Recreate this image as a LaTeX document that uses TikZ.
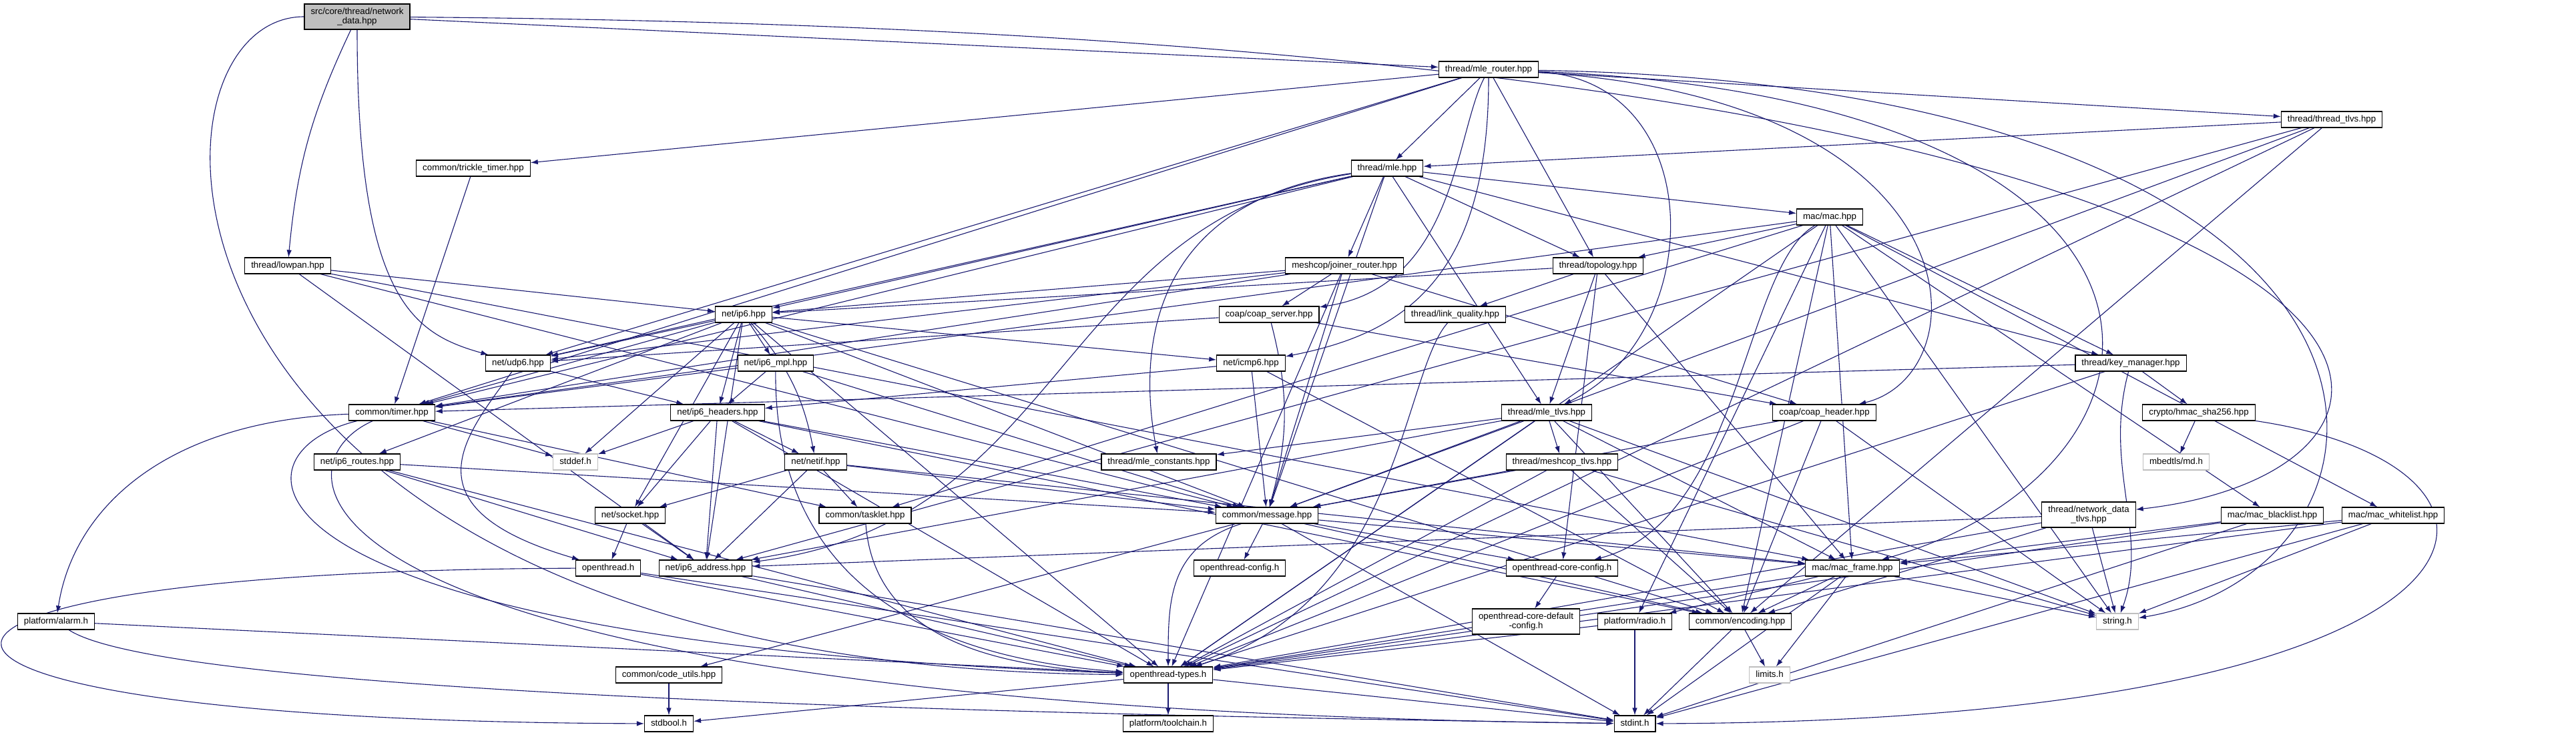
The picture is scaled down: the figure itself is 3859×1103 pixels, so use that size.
\documentclass[tikz,border=0pt]{standalone}
\usepackage{fontspec}
\setmainfont{Liberation Sans}
\usepackage{tikz}
\usetikzlibrary{arrows.meta, backgrounds}
\usepackage{xcolor}

\definecolor{edgeblue}{HTML}{191970}
\definecolor{boxgray}{HTML}{BFBFBF}

\begin{document}
\begin{tikzpicture}[x=1pt, y=-1pt, font=\fontsize{13.3}{14}\selectfont]

% Define styles
\tikzstyle{box} = [rectangle, draw, fill=white, line width=1.1pt, inner xsep=9.5pt, inner ysep=0pt, minimum height=24pt]
\tikzstyle{file} = [box, text height=9.6pt, text depth=3pt]
\tikzstyle{sysfile} = [file, draw=boxgray]
\tikzstyle{twofile} = [box, align=center, minimum height=38pt]
\tikzstyle{rootfile} = [twofile, fill=boxgray]
\tikzstyle{incl} = [draw=edgeblue, line width=1.1pt, ->, >={Latex[length=11pt,width=7.5pt]}]

\useasboundingbox (0,0) rectangle (3859,1103);

% Included file
\node [rootfile] (root) at (535,25) {src/core/thread/network\\\_data.hpp};

% Thread layer
\node [file] (mlerouter) at (2230,104) {thread/mle\_router.hpp};
\node [file] (threadtlvs) at (3493,179) {thread/thread\_tlvs.hpp};
\node [file] (trickle) at (709,252) {common/trickle\_timer.hpp};
\node [file] (mle) at (2078,252) {thread/mle.hpp};
\node [file] (mac) at (2741,325) {mac/mac.hpp};
\node [file] (lowpan) at (431,398) {thread/lowpan.hpp};
\node [file] (joiner) at (2014,398) {meshcop/joiner\_router.hpp};
\node [file] (topology) at (2394,398) {thread/topology.hpp};
\node [file] (ip6) at (1114,471) {net/ip6.hpp};
\node [file] (coapserver) at (1901,471) {coap/coap\_server.hpp};
\node [file] (linkq) at (2180,471) {thread/link\_quality.hpp};
\node [file] (udp6) at (776,544) {net/udp6.hpp};
\node [file] (ip6mpl) at (1162,544) {net/ip6\_mpl.hpp};
\node [file] (icmp6) at (1874,544) {net/icmp6.hpp};
\node [file] (keymgr) at (3192,544) {thread/key\_manager.hpp};

% Net and common layer
\node [file] (timer) at (587,618) {common/timer.hpp};
\node [file] (ip6hdr) at (1075,618) {net/ip6\_headers.hpp};
\node [file] (mletlvs) at (2317,618) {thread/mle\_tlvs.hpp};
\node [file] (coaphdr) at (2733,618) {coap/coap\_header.hpp};
\node [file] (hmac) at (3294,618) {crypto/hmac\_sha256.hpp};
\node [file] (ip6routes) at (535,692) {net/ip6\_routes.hpp};
\node [sysfile] (stddef) at (862,692) {stddef.h};
\node [file] (netif) at (1222,692) {net/netif.hpp};
\node [file] (mleconst) at (1736,692) {thread/mle\_constants.hpp};
\node [file] (meshtlvs) at (2340,692) {thread/meshcop\_tlvs.hpp};
\node [sysfile] (mbedmd) at (3260,692) {mbedtls/md.h};
\node [file] (socket) at (944,772) {net/socket.hpp};
\node [file] (tasklet) at (1296,772) {common/tasklet.hpp};
\node [file] (message) at (1898,772) {common/message.hpp};
\node [twofile] (ndtlvs) at (3129,771) {thread/network\_data\\\_tlvs.hpp};
\node [file] (blacklist) at (3404,772) {mac/mac\_blacklist.hpp};
\node [file] (whitelist) at (3585,772) {mac/mac\_whitelist.hpp};

% Base headers
\node [file] (openthread) at (911,851) {openthread.h};
\node [file] (ip6addr) at (1057,851) {net/ip6\_address.hpp};
\node [file] (otconfig) at (1857,851) {openthread-config.h};
\node [file] (coreconfig) at (2340,851) {openthread-core-config.h};
\node [file] (macframe) at (2775,851) {mac/mac\_frame.hpp};
\node [file] (alarm) at (84,931) {platform/alarm.h};
\node [twofile] (defconfig) at (2286,931) {openthread-core-default\\-config.h};
\node [file] (radio) at (2449,931) {platform/radio.h};
\node [file] (encoding) at (2607,931) {common/encoding.hpp};
\node [sysfile] (string) at (3172,931) {string.h};
\node [file] (codeutils) at (1002,1011) {common/code\_utils.hpp};
\node [file] (ottypes) at (1750,1011) {openthread-types.h};
\node [sysfile] (limits) at (2651,1011) {limits.h};
\node [file] (stdbool) at (1002,1084) {stdbool.h};
\node [file] (toolchain) at (1750,1084) {platform/toolchain.h};
\node [file] (stdint) at (2449,1084) {stdint.h};

\begin{scope}[on background layer]
% Arrows from the included file
\draw [incl] (root) -- (mlerouter);
\draw [incl] (root) to [bend right=10] (lowpan);
\draw [incl] (root) .. controls (535,450) and (620,500) .. (udp6);
\draw [incl] (root) .. controls (180,25) and (180,1000) .. (ottypes);
\draw [incl] (root) .. controls (3770,50) and (3770,700) .. (ndtlvs);

% thread/mle_router.hpp
\draw [incl] (mlerouter) -- (mle);
\draw [incl] (mlerouter) -- (threadtlvs);
\draw [incl] (mlerouter) -- (topology);
\draw [incl] (mlerouter) .. controls (2560,120) and (2560,500) .. (mletlvs);
\draw [incl] (mlerouter) .. controls (2180,200) and (2180,430) .. (coapserver);
\draw [incl] (mlerouter) .. controls (2230,420) and (2100,500) .. (icmp6);
\draw [incl] (mlerouter) .. controls (2970,150) and (2970,560) .. (coaphdr);
\draw [incl] (mlerouter) -- (udp6);
\draw [incl] (mlerouter) -- (timer);
\draw [incl] (mlerouter) -- (trickle);
\draw [incl] (mlerouter) .. controls (3350,150) and (3300,700) .. (macframe);
\draw [incl] (mlerouter) .. controls (3700,130) and (3650,850) .. (string);

% thread/thread_tlvs.hpp
\draw [incl] (threadtlvs) -- (mle);
\draw [incl] (threadtlvs) -- (message);
\draw [incl] (threadtlvs) -- (ip6addr);
\draw [incl] (threadtlvs) -- (encoding);
\draw [incl] (threadtlvs) -- (ottypes);

% thread/mle.hpp
\draw [incl] (trickle) -- (timer);
\draw [incl] (mle) -- (mac);
\draw [incl] (mle) -- (topology);
\draw [incl] (mle) -- (joiner);
\draw [incl] (mle) -- (mletlvs);
\draw [incl] (mle) .. controls (1740,300) and (1700,500) .. (mleconst);
\draw [incl] (mle) -- (udp6);
\draw [incl] (mle) -- (ip6);
\draw [incl] (mle) -- (timer);
\draw [incl] (mle) .. controls (1580,330) and (1600,780) .. (ip6addr);
\draw [incl] (mle) -- (keymgr);
\draw [incl] (mle) -- (message);

% mac/mac.hpp
\draw [incl] (mac) -- (topology);
\draw [incl] (mac) -- (macframe);
\draw [incl] (mac) .. controls (2610,400) and (2610,780) .. (coreconfig);
\draw [incl] (mac) -- (tasklet);
\draw [incl] (mac) -- (timer);
\draw [incl] (mac) -- (radio);
\draw [incl] (mac) -- (blacklist);
\draw [incl] (mac) -- (whitelist);
\draw [incl] (mac) -- (keymgr);
\draw [incl] (mac) -- (encoding);
\draw [incl] (mac) -- (ottypes);
\draw [incl] (mac) -- (string);

% thread/lowpan.hpp
\draw [incl] (lowpan) -- (ip6);
\draw [incl] (lowpan) -- (ip6addr);
\draw [incl] (lowpan) -- (macframe);
\draw [incl] (lowpan) -- (message);

% meshcop/joiner_router.hpp
\draw [incl] (joiner) -- (coapserver);
\draw [incl] (joiner) -- (coaphdr);
\draw [incl] (joiner) -- (message);
\draw [incl] (joiner) -- (udp6);
\draw [incl] (joiner) -- (ip6);
\draw [incl] (joiner) -- (ottypes);
\draw [incl] (joiner) -- (timer);

% thread/topology.hpp
\draw [incl] (topology) -- (linkq);
\draw [incl] (topology) -- (mletlvs);
\draw [incl] (topology) -- (coreconfig);
\draw [incl] (topology) -- (macframe);
\draw [incl] (topology) -- (ip6);

% net/ip6.hpp
\draw [incl] (ip6) -- (udp6);
\draw [incl] (ip6) -- (ip6mpl);
\draw [incl] (ip6) -- (ip6hdr);
\draw [incl] (ip6) to [bend left=15] (netif);
\draw [incl] (ip6) -- (icmp6);
\draw [incl] (ip6) -- (ip6routes);
\draw [incl] (ip6) -- (message);
\draw [incl] (ip6) -- (stddef);
\draw [incl] (ip6) -- (socket);
\draw [incl] (ip6) -- (ip6addr);
\draw [incl] (ip6) -- (ottypes);
\draw [incl] (ip6) -- (timer);
\draw [incl] (ip6) -- (encoding);

% coap, link quality and key manager
\draw [incl] (coapserver) -- (coaphdr);
\draw [incl] (coapserver) to [bend left=15] (message);
\draw [incl] (coapserver) -- (udp6);
\draw [incl] (linkq) .. controls (2100,560) and (2100,900) .. (ottypes);
\draw [incl] (keymgr) -- (hmac);
\draw [incl] (keymgr) .. controls (3150,700) and (3220,800) .. (string);
\draw [incl] (keymgr) -- (ottypes);
\draw [incl] (keymgr) -- (timer);

% net/udp6.hpp and net/ip6_mpl.hpp
\draw [incl] (udp6) -- (ip6hdr);
\draw [incl] (udp6) .. controls (700,650) and (600,760) .. (openthread);
\draw [incl] (ip6mpl) -- (ip6hdr);
\draw [incl] (ip6mpl) -- (message);
\draw [incl] (ip6mpl) .. controls (1160,800) and (1300,980) .. (ottypes);
\draw [incl] (ip6mpl) -- (timer);
\draw [incl] (icmp6) -- (ip6hdr);
\draw [incl] (icmp6) -- (message);
\draw [incl] (icmp6) -- (encoding);
\draw [incl] (hmac) -- (mbedmd);
\draw [incl] (hmac) .. controls (3850,700) and (3800,1080) .. (stdint);

% common/timer.hpp
\draw [incl] (timer) -- (stddef);
\draw [incl] (timer) .. controls (250,630) and (110,760) .. (alarm);
\draw [incl] (timer) .. controls (330,680) and (330,960) .. (ottypes);
\draw [incl] (timer) -- (tasklet);
\draw [incl] (timer) .. controls (400,700) and (400,1060) .. (stdint);

% net/ip6_headers.hpp
\draw [incl] (ip6hdr) -- (netif);
\draw [incl] (ip6hdr) -- (socket);
\draw [incl] (ip6hdr) -- (stddef);
\draw [incl] (ip6hdr) -- (ip6addr);
\draw [incl] (ip6hdr) -- (message);
\draw [incl] (ip6hdr) -- (ottypes);
\draw [incl] (ip6hdr) -- (encoding);

% thread/mle_tlvs.hpp
\draw [incl] (mletlvs) -- (meshtlvs);
\draw [incl] (mletlvs) -- (message);
\draw [incl] (mletlvs) -- (ip6addr);
\draw [incl] (mletlvs) -- (encoding);
\draw [incl] (mletlvs) -- (ottypes);
\draw [incl] (mletlvs) -- (macframe);
\draw [incl] (mletlvs) -- (string);
\draw [incl] (mletlvs) -- (mleconst);

% coap/coap_header.hpp and net/ip6_routes.hpp
\draw [incl] (coaphdr) -- (message);
\draw [incl] (coaphdr) -- (encoding);
\draw [incl] (coaphdr) -- (string);
\draw [incl] (coaphdr) -- (ottypes);
\draw [incl] (ip6routes) -- (ip6addr);
\draw [incl] (ip6routes) -- (message);
\draw [incl] (ip6routes) -- (ottypes);

% net/netif.hpp and thread/meshcop_tlvs.hpp
\draw [incl] (netif) -- (socket);
\draw [incl] (netif) -- (tasklet);
\draw [incl] (netif) -- (ip6addr);
\draw [incl] (netif) -- (message);
\draw [incl] (netif) -- (macframe);
\draw [incl] (meshtlvs) -- (message);
\draw [incl] (meshtlvs) -- (ottypes);
\draw [incl] (meshtlvs) -- (encoding);
\draw [incl] (meshtlvs) -- (string);

% net/socket.hpp, common/tasklet.hpp, common/message.hpp
\draw [incl] (socket) -- (openthread);
\draw [incl] (socket) -- (ip6addr);
\draw [incl] (tasklet) .. controls (1310,960) and (1500,1000) .. (ottypes);
\draw [incl] (message) -- (otconfig);
\draw [incl] (message) .. controls (1750,820) and (1750,900) .. (ottypes);
\draw [incl] (message) -- (coreconfig);
\draw [incl] (message) -- (codeutils);
\draw [incl] (message) -- (stdint);
\draw [incl] (message) -- (encoding);
\draw [incl] (message) -- (macframe);

% thread/network_data_tlvs.hpp and mac lists
\draw [incl] (ndtlvs) -- (string);
\draw [incl] (ndtlvs) -- (ottypes);
\draw [incl] (ndtlvs) -- (encoding);
\draw [incl] (ndtlvs) -- (ip6addr);
\draw [incl] (blacklist) -- (macframe);
\draw [incl] (blacklist) -- (ottypes);
\draw [incl] (blacklist) -- (stdint);
\draw [incl] (whitelist) -- (macframe);
\draw [incl] (whitelist) -- (ottypes);
\draw [incl] (whitelist) -- (stdint);
\draw [incl] (whitelist) -- (string);

% Base headers
\draw [incl] (openthread) -- (ottypes);
\draw [incl] (openthread) .. controls (-300,855) and (-300,1080) .. (stdbool);
\draw [incl] (openthread) -- (stdint);
\draw [incl] (ip6addr) -- (ottypes);
\draw [incl] (ip6addr) -- (stdint);
\draw [incl] (alarm) -- (ottypes);
\draw [incl] (alarm) .. controls (250,1040) and (1500,1070) .. (stdint);
\draw [incl] (coreconfig) -- (defconfig);
\draw [incl] (macframe) -- (radio);
\draw [incl] (macframe) -- (encoding);
\draw [incl] (macframe) -- (limits);
\draw [incl] (macframe) -- (stdint);
\draw [incl] (macframe) -- (string);
\draw [incl] (macframe) -- (ottypes);
\draw [incl] (radio) -- (ottypes);
\draw [incl] (radio) -- (stdint);
\draw [incl] (encoding) -- (limits);
\draw [incl] (encoding) -- (stdint);
\draw [incl] (codeutils) -- (stdbool);
\draw [incl] (ottypes) -- (stdbool);
\draw [incl] (ottypes) -- (toolchain);
\draw [incl] (ottypes) -- (stdint);
\end{scope}

\end{tikzpicture}
\end{document}
